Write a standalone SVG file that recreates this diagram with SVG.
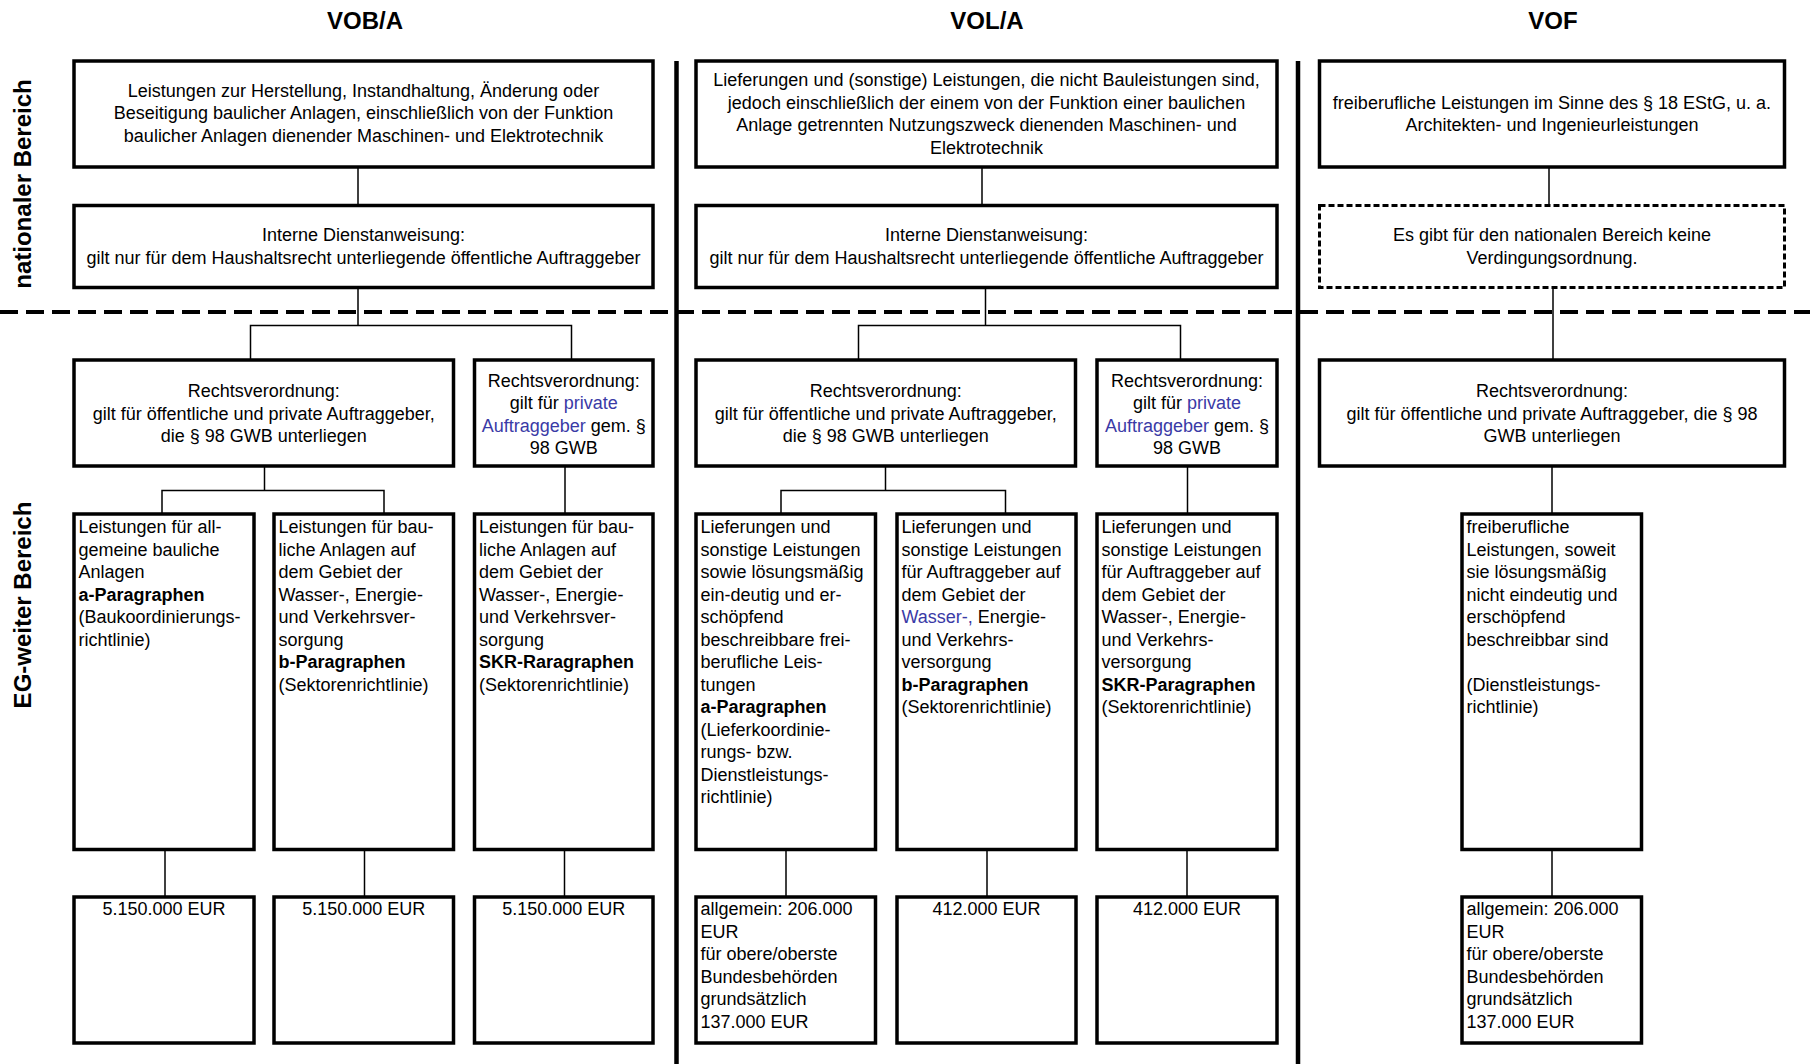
<svg xmlns="http://www.w3.org/2000/svg" width="1810" height="1064" viewBox="0 0 1810 1064">
<style>
.box{fill:#fff;stroke:#000;stroke-width:3.5}
.dbox{fill:#fff;stroke:#000;stroke-width:3;stroke-dasharray:6 3}
.conn{stroke:#000;stroke-width:1.5;fill:none}
.div{stroke:#000;stroke-width:4.5}
.sep{stroke:#000;stroke-width:4;stroke-dasharray:18 8}
text{font-family:"Liberation Sans",Arial,sans-serif;font-size:18px;fill:#000}
.c{text-anchor:middle}
.b{font-weight:bold}
.blue{fill:#3a3aa6}
.title{font-size:24px;font-weight:bold;text-anchor:middle}
</style>
<rect width="1810" height="1064" fill="#fff"/>

<g id="separators">
<line class="sep" x1="0" y1="312" x2="1810" y2="312"/>
<line class="div" x1="676.5" y1="61" x2="676.5" y2="1064"/>
<line class="div" x1="1298" y1="61" x2="1298" y2="1064"/>
</g>

<g id="labels">
<text class="title" x="365" y="29">VOB/A</text>
<text class="title" x="987" y="29">VOL/A</text>
<text class="title" x="1553" y="29">VOF</text>
<text class="title" transform="translate(31,184) rotate(-90)">nationaler Bereich</text>
<text class="title" transform="translate(31,605) rotate(-90)">EG-weiter Bereich</text>
</g>

<g id="connectors">
<!-- VOB/A -->
<line class="conn" x1="358" y1="167" x2="358" y2="205.5"/>
<polyline class="conn" points="358,287.5 358,325.5"/>
<polyline class="conn" points="250.5,360 250.5,325.5 571.5,325.5 571.5,360"/>
<line class="conn" x1="264.5" y1="466" x2="264.5" y2="490.5"/>
<polyline class="conn" points="162,514 162,490.5 384,490.5 384,514"/>
<line class="conn" x1="565" y1="466" x2="565" y2="514"/>
<line class="conn" x1="165" y1="849.5" x2="165" y2="897"/>
<line class="conn" x1="364.5" y1="849.5" x2="364.5" y2="897"/>
<line class="conn" x1="564.5" y1="849.5" x2="564.5" y2="897"/>
<!-- VOL/A -->
<line class="conn" x1="982" y1="167" x2="982" y2="205.5"/>
<line class="conn" x1="985.5" y1="287.5" x2="985.5" y2="325.5"/>
<polyline class="conn" points="858.5,360 858.5,325.5 1180.5,325.5 1180.5,360"/>
<line class="conn" x1="885.5" y1="466" x2="885.5" y2="490.5"/>
<polyline class="conn" points="781,514 781,490.5 1005.5,490.5 1005.5,514"/>
<line class="conn" x1="1187.5" y1="466" x2="1187.5" y2="514"/>
<line class="conn" x1="786" y1="849.5" x2="786" y2="897"/>
<line class="conn" x1="987" y1="849.5" x2="987" y2="897"/>
<line class="conn" x1="1187" y1="849.5" x2="1187" y2="897"/>
<!-- VOF -->
<line class="conn" x1="1549" y1="167" x2="1549" y2="205.5"/>
<line class="conn" x1="1553" y1="287.5" x2="1553" y2="360"/>
<line class="conn" x1="1552" y1="466" x2="1552" y2="514"/>
<line class="conn" x1="1552" y1="849.5" x2="1552" y2="897"/>
</g>

<!-- VOB/A nodes -->
<g id="vob-top">
<rect class="box" x="74" y="61" width="579" height="106"/>
<text class="c" x="363.5" y="96.5">Leistungen zur Herstellung, Instandhaltung, Änderung oder</text>
<text class="c" x="363.5" y="119">Beseitigung baulicher Anlagen, einschließlich von der Funktion</text>
<text class="c" x="363.5" y="141.5">baulicher Anlagen dienender Maschinen- und Elektrotechnik</text>
</g>
<g id="vob-intern">
<rect class="box" x="74" y="205.5" width="579" height="82"/>
<text class="c" x="363.5" y="241">Interne Dienstanweisung:</text>
<text class="c" x="363.5" y="263.5">gilt nur für dem Haushaltsrecht unterliegende öffentliche Auftraggeber</text>
</g>
<g id="vob-rv1">
<rect class="box" x="74" y="360" width="379.5" height="106"/>
<text class="c" x="263.75" y="397">Rechtsverordnung:</text>
<text class="c" x="263.75" y="419.5">gilt für öffentliche und private Auftraggeber,</text>
<text class="c" x="263.75" y="442">die § 98 GWB unterliegen</text>
</g>
<g id="vob-rv2">
<rect class="box" x="474.5" y="360" width="178.5" height="106"/>
<text class="c" x="563.75" y="386.5">Rechtsverordnung:</text>
<text class="c" x="563.75" y="409">gilt für <tspan class="blue">private</tspan></text>
<text class="c" x="563.75" y="431.5"><tspan class="blue">Auftraggeber</tspan> gem. §</text>
<text class="c" x="563.75" y="454">98 GWB</text>
</g>
<g id="vob-a">
<rect class="box" x="74" y="514" width="180" height="335.5"/>
<text x="78.5" y="533">Leistungen für all-<tspan x="78.5" dy="22.5">gemeine bauliche</tspan><tspan x="78.5" dy="22.5">Anlagen</tspan><tspan x="78.5" dy="22.5" class="b">a-Paragraphen</tspan><tspan x="78.5" dy="22.5">(Baukoordinierungs-</tspan><tspan x="78.5" dy="22.5">richtlinie)</tspan></text>
</g>
<g id="vob-b">
<rect class="box" x="274" y="514" width="179.5" height="335.5"/>
<text x="278.5" y="533">Leistungen für bau-<tspan x="278.5" dy="22.5">liche Anlagen auf</tspan><tspan x="278.5" dy="22.5">dem Gebiet der</tspan><tspan x="278.5" dy="22.5">Wasser-, Energie-</tspan><tspan x="278.5" dy="22.5">und Verkehrsver-</tspan><tspan x="278.5" dy="22.5">sorgung</tspan><tspan x="278.5" dy="22.5" class="b">b-Paragraphen</tspan><tspan x="278.5" dy="22.5">(Sektorenrichtlinie)</tspan></text>
</g>
<g id="vob-c">
<rect class="box" x="474.5" y="514" width="178.5" height="335.5"/>
<text x="479" y="533">Leistungen für bau-<tspan x="479" dy="22.5">liche Anlagen auf</tspan><tspan x="479" dy="22.5">dem Gebiet der</tspan><tspan x="479" dy="22.5">Wasser-, Energie-</tspan><tspan x="479" dy="22.5">und Verkehrsver-</tspan><tspan x="479" dy="22.5">sorgung</tspan><tspan x="479" dy="22.5" class="b">SKR-Raragraphen</tspan><tspan x="479" dy="22.5">(Sektorenrichtlinie)</tspan></text>
</g>
<g id="vob-a-wert">
<rect class="box" x="74" y="897" width="180" height="146"/>
<text class="c" x="164" y="915">5.150.000 EUR</text>
</g>
<g id="vob-b-wert">
<rect class="box" x="274" y="897" width="179.5" height="146"/>
<text class="c" x="363.75" y="915">5.150.000 EUR</text>
</g>
<g id="vob-c-wert">
<rect class="box" x="474.5" y="897" width="178.5" height="146"/>
<text class="c" x="563.75" y="915">5.150.000 EUR</text>
</g>

<!-- VOL/A nodes -->
<g id="vol-top">
<rect class="box" x="696" y="61" width="581" height="106"/>
<text class="c" x="986.5" y="86">Lieferungen und (sonstige) Leistungen, die nicht Bauleistungen sind,</text>
<text class="c" x="986.5" y="108.5">jedoch einschließlich der einem von der Funktion einer baulichen</text>
<text class="c" x="986.5" y="131">Anlage getrennten Nutzungszweck dienenden Maschinen- und</text>
<text class="c" x="986.5" y="153.5">Elektrotechnik</text>
</g>
<g id="vol-intern">
<rect class="box" x="696" y="205.5" width="581" height="82"/>
<text class="c" x="986.5" y="241">Interne Dienstanweisung:</text>
<text class="c" x="986.5" y="263.5">gilt nur für dem Haushaltsrecht unterliegende öffentliche Auftraggeber</text>
</g>
<g id="vol-rv1">
<rect class="box" x="696" y="360" width="379.5" height="106"/>
<text class="c" x="885.75" y="397">Rechtsverordnung:</text>
<text class="c" x="885.75" y="419.5">gilt für öffentliche und private Auftraggeber,</text>
<text class="c" x="885.75" y="442">die § 98 GWB unterliegen</text>
</g>
<g id="vol-rv2">
<rect class="box" x="1097" y="360" width="180" height="106"/>
<text class="c" x="1187" y="386.5">Rechtsverordnung:</text>
<text class="c" x="1187" y="409">gilt für <tspan class="blue">private</tspan></text>
<text class="c" x="1187" y="431.5"><tspan class="blue">Auftraggeber</tspan> gem. §</text>
<text class="c" x="1187" y="454">98 GWB</text>
</g>
<g id="vol-a">
<rect class="box" x="696" y="514" width="179.5" height="335.5"/>
<text x="700.5" y="533">Lieferungen und<tspan x="700.5" dy="22.5">sonstige Leistungen</tspan><tspan x="700.5" dy="22.5">sowie lösungsmäßig</tspan><tspan x="700.5" dy="22.5">ein-deutig und er-</tspan><tspan x="700.5" dy="22.5">schöpfend</tspan><tspan x="700.5" dy="22.5">beschreibbare frei-</tspan><tspan x="700.5" dy="22.5">berufliche Leis-</tspan><tspan x="700.5" dy="22.5">tungen</tspan><tspan x="700.5" dy="22.5" class="b">a-Paragraphen</tspan><tspan x="700.5" dy="22.5">(Lieferkoordinie-</tspan><tspan x="700.5" dy="22.5">rungs- bzw.</tspan><tspan x="700.5" dy="22.5">Dienstleistungs-</tspan><tspan x="700.5" dy="22.5">richtlinie)</tspan></text>
</g>
<g id="vol-b">
<rect class="box" x="897" y="514" width="179" height="335.5"/>
<text x="901.5" y="533">Lieferungen und<tspan x="901.5" dy="22.5">sonstige Leistungen</tspan><tspan x="901.5" dy="22.5">für Auftraggeber auf</tspan><tspan x="901.5" dy="22.5">dem Gebiet der</tspan><tspan x="901.5" dy="22.5"><tspan class="blue">Wasser-,</tspan> Energie-</tspan><tspan x="901.5" dy="22.5">und Verkehrs-</tspan><tspan x="901.5" dy="22.5">versorgung</tspan><tspan x="901.5" dy="22.5" class="b">b-Paragraphen</tspan><tspan x="901.5" dy="22.5">(Sektorenrichtlinie)</tspan></text>
</g>
<g id="vol-c">
<rect class="box" x="1097" y="514" width="180" height="335.5"/>
<text x="1101.5" y="533">Lieferungen und<tspan x="1101.5" dy="22.5">sonstige Leistungen</tspan><tspan x="1101.5" dy="22.5">für Auftraggeber auf</tspan><tspan x="1101.5" dy="22.5">dem Gebiet der</tspan><tspan x="1101.5" dy="22.5">Wasser-, Energie-</tspan><tspan x="1101.5" dy="22.5">und Verkehrs-</tspan><tspan x="1101.5" dy="22.5">versorgung</tspan><tspan x="1101.5" dy="22.5" class="b">SKR-Paragraphen</tspan><tspan x="1101.5" dy="22.5">(Sektorenrichtlinie)</tspan></text>
</g>
<g id="vol-a-wert">
<rect class="box" x="696" y="897" width="179.5" height="146"/>
<text x="700.5" y="915">allgemein: 206.000<tspan x="700.5" dy="22.5">EUR</tspan><tspan x="700.5" dy="22.5">für obere/oberste</tspan><tspan x="700.5" dy="22.5">Bundesbehörden</tspan><tspan x="700.5" dy="22.5">grundsätzlich</tspan><tspan x="700.5" dy="22.5">137.000 EUR</tspan></text>
</g>
<g id="vol-b-wert">
<rect class="box" x="897" y="897" width="179" height="146"/>
<text class="c" x="986.5" y="915">412.000 EUR</text>
</g>
<g id="vol-c-wert">
<rect class="box" x="1097" y="897" width="180" height="146"/>
<text class="c" x="1187" y="915">412.000 EUR</text>
</g>

<!-- VOF nodes -->
<g id="vof-top">
<rect class="box" x="1319.5" y="61" width="465" height="106"/>
<text class="c" x="1552" y="108.5">freiberufliche Leistungen im Sinne des § 18 EStG, u. a.</text>
<text class="c" x="1552" y="131">Architekten- und Ingenieurleistungen</text>
</g>
<g id="vof-national">
<rect class="dbox" x="1319.5" y="205.5" width="465" height="82"/>
<text class="c" x="1552" y="241">Es gibt für den nationalen Bereich keine</text>
<text class="c" x="1552" y="263.5">Verdingungsordnung.</text>
</g>
<g id="vof-rv">
<rect class="box" x="1319.5" y="360" width="465" height="106"/>
<text class="c" x="1552" y="397">Rechtsverordnung:</text>
<text class="c" x="1552" y="419.5">gilt für öffentliche und private Auftraggeber, die § 98</text>
<text class="c" x="1552" y="442">GWB unterliegen</text>
</g>
<g id="vof-leistungen">
<rect class="box" x="1462" y="514" width="179.5" height="335.5"/>
<text x="1466.5" y="533">freiberufliche<tspan x="1466.5" dy="22.5">Leistungen, soweit</tspan><tspan x="1466.5" dy="22.5">sie lösungsmäßig</tspan><tspan x="1466.5" dy="22.5">nicht eindeutig und</tspan><tspan x="1466.5" dy="22.5">erschöpfend</tspan><tspan x="1466.5" dy="22.5">beschreibbar sind</tspan><tspan x="1466.5" dy="45">(Dienstleistungs-</tspan><tspan x="1466.5" dy="22.5">richtlinie)</tspan></text>
</g>
<g id="vof-wert">
<rect class="box" x="1462" y="897" width="179.5" height="146"/>
<text x="1466.5" y="915">allgemein: 206.000<tspan x="1466.5" dy="22.5">EUR</tspan><tspan x="1466.5" dy="22.5">für obere/oberste</tspan><tspan x="1466.5" dy="22.5">Bundesbehörden</tspan><tspan x="1466.5" dy="22.5">grundsätzlich</tspan><tspan x="1466.5" dy="22.5">137.000 EUR</tspan></text>
</g>
</svg>
